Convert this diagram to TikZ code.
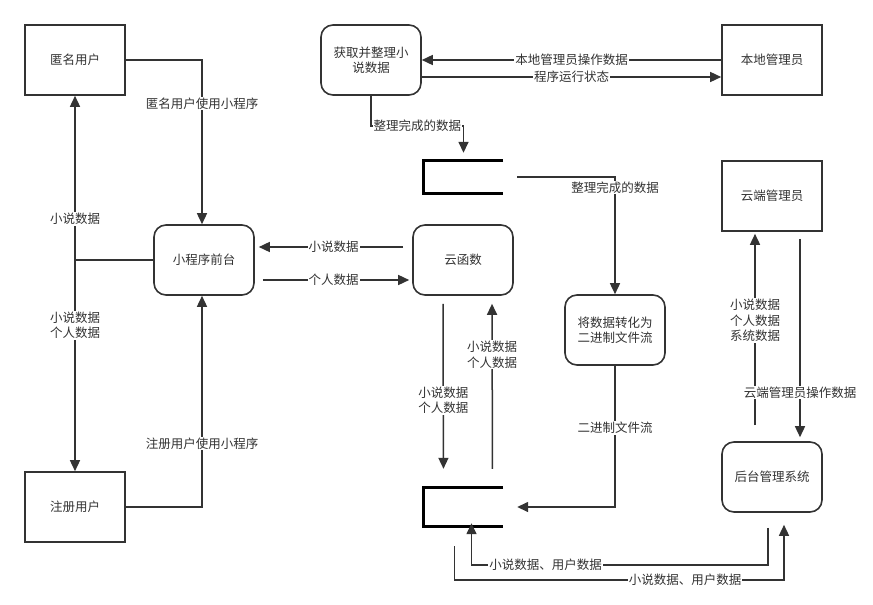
\documentclass[tikz,border=0pt]{standalone}
\usepackage{fontspec}
\setmainfont{Noto Sans CJK SC}
\usetikzlibrary{arrows.meta}
\definecolor{ink}{HTML}{333333}
\tikzset{
  ent/.style={draw=ink, line width=1.6pt, minimum width=100pt, minimum height=70pt, inner sep=2pt, text=ink, align=center, font=\fontsize{12.5}{15.5}\selectfont},
  proc/.style={ent, rounded corners=12pt},
  storebox/.style={minimum width=79pt, inner sep=0pt},
  storeline/.style={draw=black, line width=3pt},
  conn/.style={draw=ink, line width=1.5pt},
  arr/.style={conn, -{Triangle[length=11pt,width=10pt]}},
  lab/.style={fill=white, inner sep=1pt, text=ink, align=center, font=\fontsize{12.5}{15.5}\selectfont},
}
\begin{document}
\begin{tikzpicture}[x=1pt,y=-1pt]
\useasboundingbox[fill=white] (0,0) rectangle (873,605);
% nodes
\node[ent]  (anon)  at (75,60)  {匿名用户};
\node[ent]  (reg)   at (75,507) {注册用户};
\node[proc] (front) at (204,260) {小程序前台};
\node[proc] (cloudfn) at (463,260) {云函数};
\node[proc] (fetch) at (371,60) {获取并整理小\\说数据};
\node[ent]  (localadmin) at (772,60) {本地管理员};
\node[ent]  (cloudadmin) at (772,196) {云端管理员};
\node[proc] (convert) at (615,330) {将数据转化为\\二进制文件流};
\node[proc] (backend) at (772,477) {后台管理系统};
\node[storebox, minimum height=32pt] (store1) at (463.5,177) {};
\node[storebox, minimum height=38pt] (store2) at (463.5,507) {};
\draw[storeline] (store1.north east) -- (store1.north west) -- (store1.south west) -- (store1.south east);
\draw[storeline] (store2.north east) -- (store2.north west) -- (store2.south west) -- (store2.south east);

% users <-> front
\draw[arr] (anon.east) -| node[lab,pos=0.633]{匿名用户使用小程序} ([xshift=-2pt]front.north);
\draw[arr] (reg.east) -| node[lab,pos=0.65]{注册用户使用小程序} ([xshift=-2pt]front.south);
\coordinate (split) at (front.west -| anon.south);
\draw[conn] (front.west) -- (split);
\draw[arr] (split) -- node[lab,pos=0.25]{小说数据} (anon.south);
\draw[arr] (split) -- node[lab,pos=0.31]{小说数据\\个人数据} (reg.north);

% front <-> cloud function
\draw[arr, shorten <=9pt, shorten >=4pt] ([yshift=13pt]cloudfn.west) -- node[lab]{小说数据} ([yshift=13pt]front.east);
\draw[arr, shorten <=8pt, shorten >=3pt] ([yshift=-20pt]front.east) -- node[lab]{个人数据} ([yshift=-20pt]cloudfn.west);

% local admin <-> fetch
\draw[arr] (localadmin.west) -- node[lab]{本地管理员操作数据} (fetch.east);
\draw[arr] ([yshift=-17pt]fetch.east) -- node[lab]{程序运行状态} ([yshift=-17pt]localadmin.west);

% fetch -> store1
\draw[arr, shorten >=8pt] (fetch.south) -- ++(0,30) -| node[lab,pos=0.25]{整理完成的数据} (store1.north);

% store1 -> convert
\draw[arr, shorten <=14pt] (store1.east) -| node[lab,pos=0.545]{整理完成的数据} (convert.north);

% convert -> store2
\draw[arr, shorten >=14pt] (convert.south) |- node[lab,pos=0.22]{二进制文件流} (store2.east);

% cloudfn <-> store2
\draw[arr, shorten <=8pt, shorten >=19pt] ([xshift=-20pt]cloudfn.south) -- node[lab,pos=0.544]{小说数据\\个人数据} ([xshift=-20pt]store2.north);
\draw[arr, shorten <=19pt, shorten >=8pt] ([xshift=29pt]store2.north) -- node[lab,pos=0.694]{小说数据\\个人数据} ([xshift=29pt]cloudfn.south);

% backend <-> store2
\draw[arr, shorten <=15pt, shorten >=-3pt] ([xshift=-4pt]backend.south) -- ++(0,52) -| node[lab,pos=0.375]{小说数据、用户数据} ([xshift=8pt]store2.south);
\draw[arr, shorten <=20pt, shorten >=12pt] ([xshift=-9pt]store2.south) -- ++(0,54) -| node[lab,pos=0.35]{小说数据、用户数据} ([xshift=12pt]backend.south);

% backend <-> cloud admin
\draw[arr, shorten <=16pt, shorten >=2pt] ([xshift=-17pt]backend.north) -- node[lab,pos=0.576]{小说数据\\个人数据\\系统数据} ([xshift=-17pt]cloudadmin.south);
\draw[arr, shorten <=7pt, shorten >=4pt] ([xshift=28pt]cloudadmin.south) -- node[lab,pos=0.767]{云端管理员操作数据} ([xshift=28pt]backend.north);
\end{tikzpicture}
\end{document}
